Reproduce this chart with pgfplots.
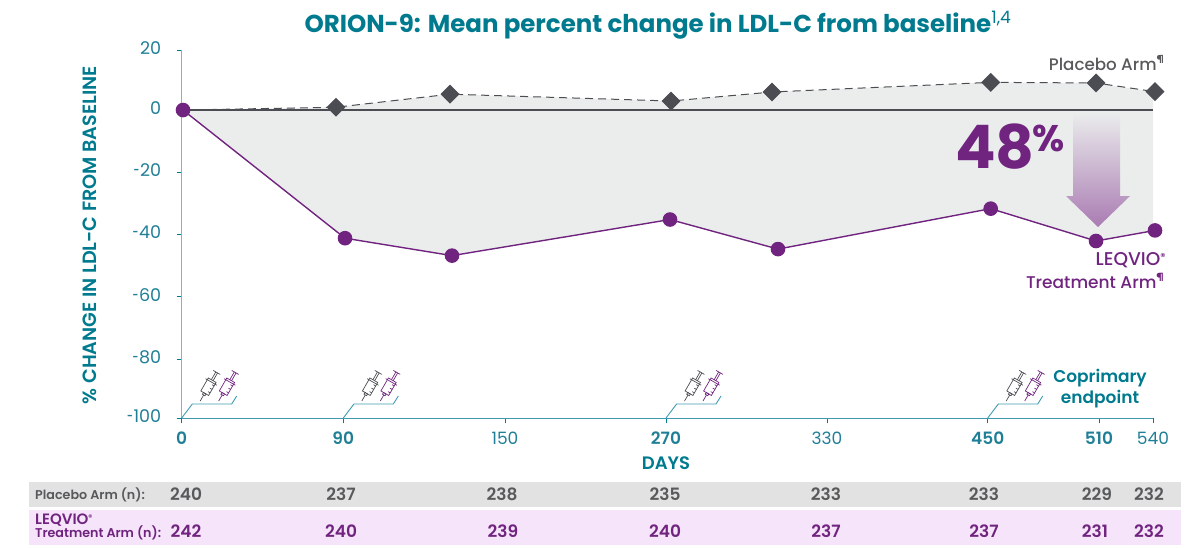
\documentclass[border=0pt]{standalone}
\usepackage{fontspec}
\setmainfont{Poppins}[BoldFont={Poppins SemiBold}]
\newfontfamily\medf{Poppins Medium}
\newfontfamily\bldf{Poppins Bold}
\usepackage{pgfplots}
\pgfplotsset{compat=1.18}
\definecolor{teal1}{HTML}{007A8E}
\definecolor{teal2}{HTML}{1F7F96}
\definecolor{tealax}{HTML}{3E9BB0}
\definecolor{tealy}{HTML}{7DB6C4}
\definecolor{gr}{HTML}{4B4D52}
\definecolor{grt}{HTML}{58595B}
\definecolor{pu}{HTML}{70247F}
\definecolor{fillc}{HTML}{EBEDED}
\definecolor{rowg}{HTML}{E2E2E2}
\definecolor{rowp}{HTML}{F6E4FA}
\newcommand{\regm}[2]{\raisebox{#2}{\fontsize{#1}{#1}\selectfont ®}}
\newcommand{\hy}{\scalebox{.62}[1]{-}\kern.5pt}
\newcommand{\syr}[3]{% x, y of needle tip, colour
\begin{scope}[shift={(#1,#2)},rotate=60,draw=#3,line width=.7pt]
\draw (0,0)--(7,0);
\draw (7,-1.5)--(9,-1.5)--(9,1.5)--(7,1.5)--cycle;
\draw (9,-4.5)--(24,-4.5)--(24,4.5)--(9,4.5)--cycle;
\draw (22,-6.5)--(22,6.5);
\draw (24,-1)--(33,-1) (24,1)--(33,1);
\draw (33,-4)--(33,4);
\draw (12,4.5)--(12,2) (16,4.5)--(16,2) (20,4.5)--(20,2);
\end{scope}}
\newcommand{\dose}[1]{%
\draw[tealax,line width=.9pt] (#1,418)--(#1+10.6,404)--(#1+50,404)--(#1+55,396);
\syr{#1+18.5}{401}{gr}
\syr{#1+37}{401}{pu}}
\begin{document}
\begin{tikzpicture}
\path[use as bounding box] (0pt,0pt) rectangle (1193pt,-547pt);
\begin{axis}[
  at={(181.7pt,-418.3pt)},anchor=south west,
  scale only axis,width=971.3pt,height=368.3pt,
  xmin=181.7,xmax=1153,ymin=-99.1,ymax=19.3,
  clip=false,
  axis lines=left,
  axis line style={-,line width=.9pt},
  x axis line style={tealax},
  y axis line style={tealy},
  xtick={181.7,343.3,505,666,827,987.7,1099,1153},
  xticklabels={\textbf{0},\textbf{90},150,\textbf{270},330,\textbf{450},\textbf{510},540},
  ytick={-99.1,-80,-60,-40,-20,0,19.3},
  yticklabels={\hy100,\hy80,\hy60,\hy40,\hy20,0,20},
  tick align=outside,
  major tick length=5pt,
  tick style={teal1,line width=.7pt},
  every x tick label/.append style={font=\fontsize{17}{19}\selectfont,text=teal2,yshift=-5pt},
  every y tick label/.append style={font=\fontsize{17.5}{19}\selectfont,text=teal2,xshift=-12pt,yshift=2pt},
]
% shaded gap between the arms
\addplot[fill=fillc,draw=none] coordinates {
 (183,0)(336,0.9)(450,5.1)(671,2.9)(772,5.8)(990.7,8.9)(1096,8.7)(1153,5.9)
 (1153,-38.7)(1096,-42.1)(990.7,-31.7)(778,-44.7)(670,-35.2)(452,-46.8)(345,-41.2)(183,0)} --cycle;
% zero line
\addplot[gr,line width=1.6pt] coordinates {(183,0)(1153,0)};
% placebo
\addplot[gr,line width=1pt,dash pattern=on 8pt off 5pt,mark=square*,mark indices={2,3,4,5,6,7,8},
  mark size=6.2pt,mark options={solid,rotate=45,fill=gr,draw=gr}] coordinates {
 (183,0)(336,0.9)(450,5.1)(671,2.9)(772,5.8)(990.7,8.9)(1096,8.7)(1155,5.9)};
% treatment
\addplot[pu,line width=1.4pt,mark=*,mark size=6.6pt,mark options={fill=pu,draw=pu}] coordinates {
 (183,0)(345,-41.2)(452,-46.8)(670,-35.2)(778,-44.7)(990.7,-31.7)(1096,-42.1)(1155,-38.7)};
\end{axis}
\begin{scope}[x=1pt,y=-1pt]
% title
\node[anchor=center,text=teal1,font=\bldf\fontsize{24.5}{28}\selectfont] at (658,25)
 {ORION-9: Mean percent change in LDL-C from baseline\textsuperscript{\mdseries\rmfamily 1,4}};
% y label
\node[rotate=90,text=teal1,font=\bfseries\fontsize{19.2}{20}\selectfont] at (90,235)
 {\% CHANGE IN LDL-C FROM BASELINE};
\node[text=teal1,font=\bfseries\fontsize{18}{20}\selectfont] at (666,463) {DAYS};
% labels
\node[anchor=east,text=grt,font=\medf\fontsize{16.7}{18}\selectfont] at (1168,63) {Placebo Arm\textsuperscript{¶}};
\node[anchor=east,text=pu,font=\medf\fontsize{18.5}{18}\selectfont] at (1169,260) {LEQVIO\regm{10}{5pt}};
\node[anchor=east,text=pu,font=\medf\fontsize{17}{18}\selectfont] at (1168,281) {Treatment Arm\textsuperscript{¶}};
\node[anchor=center,align=center,text=teal1,font=\bfseries\fontsize{17}{21}\selectfont] at (1100,389) {Coprimary\\endpoint};
% arrow
\shade[top color=fillc,bottom color=pu!60!white]
 (1073,112)--(1120,112)--(1120,196)--(1130,196)--(1098,227)--(1066,196)--(1073,196)--cycle;
\node[text=pu,font=\bldf\fontsize{60}{70}\selectfont,anchor=center] at (995,147) {48};
\node[text=pu,font=\bldf\fontsize{37}{37}\selectfont,anchor=center] at (1049,138) {\%};
% doses
\dose{181.7}\dose{343.3}\dose{666}\dose{987.7}
% table
\fill[rowg] (29,482) rectangle (1180.7,507);
\fill[rowp] (29,510) rectangle (1180.7,545);
\node[anchor=west,text=grt,font=\bfseries\fontsize{12.7}{14}\selectfont,inner sep=0pt] at (35,495) {Placebo Arm (n):};
\node[anchor=west,text=pu,font=\bfseries\fontsize{15}{15}\selectfont,inner sep=0pt] at (35,520) {LEQVIO\regm{8}{4pt}};
\node[anchor=west,text=pu,font=\bfseries\fontsize{12.7}{13}\selectfont,inner sep=0pt] at (35,533) {Treatment Arm (n):};
\foreach \x/\v in {186/240,341/237,502/238,665/235,826/233,984/233,1097/229,1149/232}
 \node[text=grt,font=\bfseries\fontsize{17}{19}\selectfont] at (\x,494) {\v};
\foreach \x/\v in {186/242,341/240,503/239,665/240,826/237,984/237,1095/231,1149/232}
 \node[text=pu,font=\bfseries\fontsize{17}{19}\selectfont] at (\x,531) {\v};
\end{scope}
\end{tikzpicture}
\end{document}
